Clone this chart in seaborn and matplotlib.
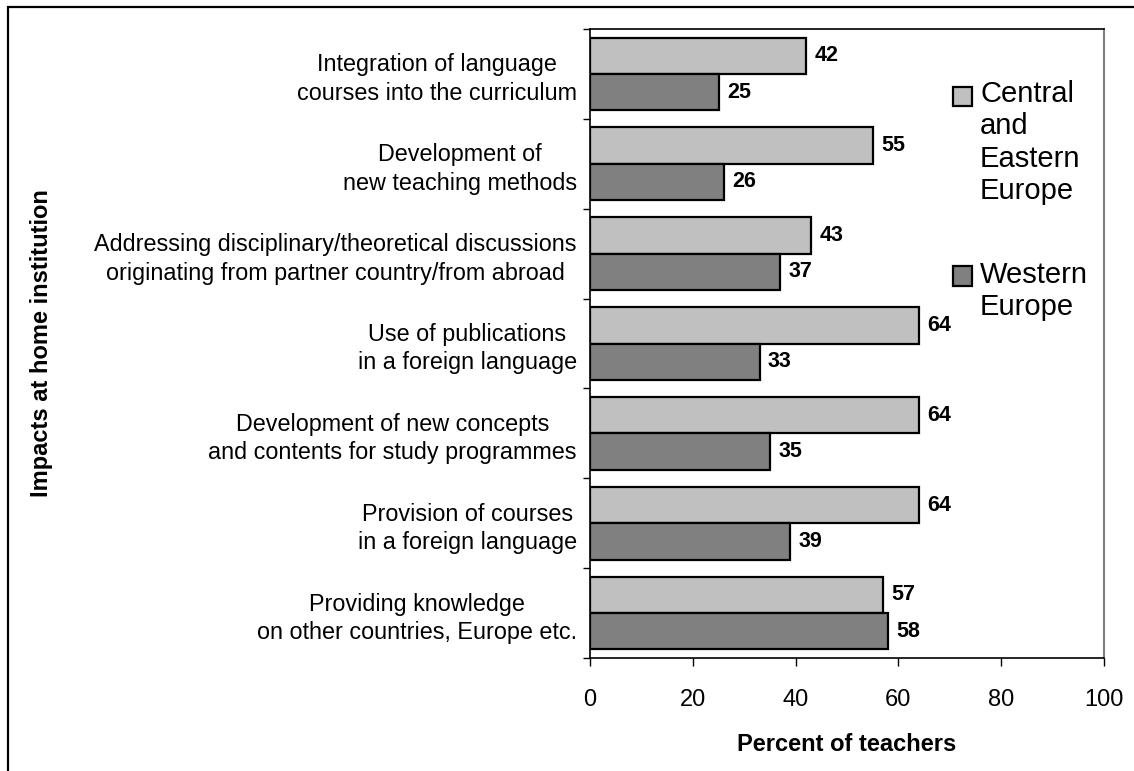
import matplotlib
matplotlib.use("Agg")
import matplotlib.pyplot as plt
from matplotlib.patches import Patch, Rectangle
from matplotlib.legend_handler import HandlerPatch
import pandas as pd
import seaborn as sns

# --- data ---
items = [
    "Integration of language\ncourses into the curriculum",
    "Development of\nnew teaching methods",
    "Addressing disciplinary/theoretical discussions\noriginating from partner country/from abroad",
    "Use of publications\nin a foreign language",
    "Development of new concepts\nand contents for study programmes",
    "Provision of courses\nin a foreign language",
    "Providing knowledge\non other countries, Europe etc.",
]
central_east = [42, 55, 43, 64, 64, 64, 57]
western = [25, 26, 37, 33, 35, 39, 58]
regions = ["Central and Eastern Europe", "Western Europe"]
legend_labels = ["Central\nand\nEastern\nEurope", "Western\nEurope"]
x_ticks = [0, 20, 40, 60, 80, 100]

colors = {"Central and Eastern Europe": "#c0c0c0", "Western Europe": "#808080"}

df = pd.DataFrame({
    "item": items * 2,
    "region": [regions[0]] * len(items) + [regions[1]] * len(items),
    "pct": central_east + western,
})

sns.set_theme(style="white")
plt.rcParams["font.family"] = ["Liberation Sans", "DejaVu Sans"]
plt.rcParams.update({
    "text.color": "black",
    "axes.labelcolor": "black",
    "xtick.color": "black",
    "ytick.color": "black",
})

fig = plt.figure(figsize=(11.34, 7.71), dpi=100)
ax = fig.add_axes([590 / 1134, 113 / 771, 514 / 1134, 629 / 771])

sns.barplot(
    data=df, y="item", x="pct", hue="region", orient="h",
    order=items, hue_order=regions, palette=colors,
    edgecolor="black", linewidth=1.6, width=0.81, gap=0,
    legend=False, ax=ax,
)

for cont in ax.containers:
    ax.bar_label(cont, fmt="%d", padding=6, fontsize=15.5, fontweight="bold", color="black")

ax.set_xlim(0, 100)
ax.set_xticks(x_ticks)
ax.set_yticks(range(len(items)), labels=items)
ax.set_yticks([i - 0.5 for i in range(len(items) + 1)], minor=True)
for t in ax.get_yticklabels():
    t.set_linespacing(1.3)
    t.set_multialignment("center")

ax.tick_params(axis="y", which="major", length=0, pad=9.5, labelsize=16.8)
ax.tick_params(axis="y", which="minor", left=True, length=5, width=1, color="black", direction="out")
ax.tick_params(axis="x", which="major", bottom=True, length=6, width=1, color="black",
               direction="out", pad=16, labelsize=17)

for side in ["left", "bottom", "top"]:
    ax.spines[side].set_color("black")
    ax.spines[side].set_linewidth(1.2)
ax.spines["right"].set_color("#808080")
ax.spines["right"].set_linewidth(1.5)

ax.set_xlabel("Percent of teachers", fontsize=17, fontweight="bold", labelpad=16)
ax.set_ylabel("Impacts at home institution", fontsize=17, fontweight="bold")
ax.yaxis.set_label_coords(-1.045, 0.5)

# legend: square aligned with the first line of each label
leg_fs = 21
line_step = leg_fs * 1.07


def square_at_first_line(nlines):
    def make(legend, orig_handle, xdescent, ydescent, width, height, fontsize):
        return Rectangle((-xdescent, -ydescent + (nlines - 1) / 2 * line_step), width, height)
    return make


handles = [Patch(facecolor=colors[r], edgecolor="black", linewidth=1.6) for r in regions]
handler_map = {
    h: HandlerPatch(patch_func=square_at_first_line(lbl.count("\n") + 1))
    for h, lbl in zip(handles, legend_labels)
}
ax.legend(
    handles, legend_labels, handler_map=handler_map,
    loc="upper left", bbox_to_anchor=(0.706, 0.919), frameon=False,
    fontsize=leg_fs, borderpad=0, borderaxespad=0,
    handlelength=0.65, handleheight=0.65, handletextpad=0.28, labelspacing=1.9,
)

# outer chart frame (right and bottom sides fall outside the picture)
fig.add_artist(Rectangle((8.3 / 1134, -0.1), 1.2, 1.1 - 7.5 / 771,
                         transform=fig.transFigure, fill=False,
                         edgecolor="black", linewidth=1.6))

fig.savefig("out.png", dpi=100)
